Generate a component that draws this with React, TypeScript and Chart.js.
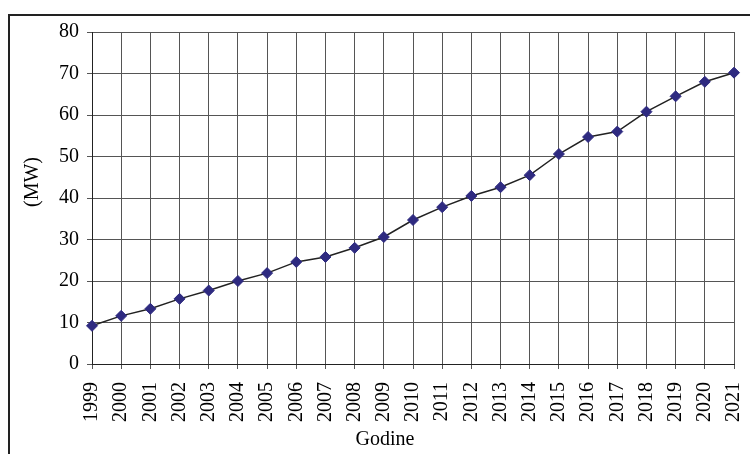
import React, { useEffect, useRef } from "react";
import { Chart, registerables } from "chart.js";

Chart.register(...registerables);

const years: string[] = [
  "1999", "2000", "2001", "2002", "2003", "2004", "2005", "2006", "2007", "2008", "2009", "2010",
  "2011", "2012", "2013", "2014", "2015", "2016", "2017", "2018", "2019", "2020", "2021",
];
const capacityMW: number[] = [
  9.2, 11.6, 13.3, 15.7, 17.7, 20.0, 21.9, 24.6, 25.8, 28.0, 30.6, 34.7,
  37.8, 40.5, 42.6, 45.5, 50.6, 54.7, 56.0, 60.8, 64.5, 68.0, 70.2,
];
const yTitle = "(MW)";
const xTitle = "Godine";

const FONT = "'Liberation Serif', 'Times New Roman', serif";

export default function App() {
  const ref = useRef<HTMLCanvasElement | null>(null);

  useEffect(() => {
    if (!ref.current) return;
    const titlesPlugin = {
      id: "titlesPlugin",
      afterDraw(chart: any) {
        const ctx = chart.ctx;
        ctx.save();
        ctx.font = `20px ${FONT}`;
        ctx.fillStyle = "#000";
        ctx.textAlign = "center";
        ctx.textBaseline = "middle";
        ctx.fillText(xTitle, 385, 440);
        ctx.translate(33, 182);
        ctx.rotate(-Math.PI / 2);
        ctx.fillText(yTitle, 0, 0);
        ctx.restore();
      },
    };
    const chart = new Chart(ref.current, {
      type: "line",
      data: {
        labels: years,
        datasets: [
          {
            data: capacityMW,
            borderColor: "#222",
            borderWidth: 1.5,
            pointStyle: "rectRot",
            pointRadius: 5.5,
            pointBackgroundColor: "#2E2A80",
            pointBorderColor: "#2E2A80",
            pointBorderWidth: 1,
            tension: 0,
            fill: false,
          },
        ],
      },
      options: {
        responsive: false,
        animation: false,
        layout: { padding: { left: 0, top: 32, right: 16, bottom: 0 } },
        plugins: {
          legend: { display: false },
          tooltip: { enabled: false },
        },
        scales: {
          x: {
            type: "category",
            offset: false,
            afterFit(scale: any) {
              scale.height = 90;
              scale.paddingLeft = 0;
              scale.paddingRight = 0;
            },
            grid: { color: "#555", lineWidth: 1, tickLength: 5, drawTicks: true },
            border: { color: "#222", width: 1 },
            ticks: {
              autoSkip: false,
              minRotation: 90,
              maxRotation: 90,
              padding: 13,
              color: "#000",
              font: { family: FONT, size: 20 },
            },
          },
          y: {
            min: 0,
            max: 80,
            afterFit(scale: any) {
              scale.width = 92;
              scale.paddingTop = 0;
              scale.paddingBottom = 0;
            },
            grid: { color: "#555", lineWidth: 1, tickLength: 5, drawTicks: true },
            border: { color: "#222", width: 1 },
            ticks: {
              stepSize: 10,
              padding: 8,
              color: "#000",
              font: { family: FONT, size: 20 },
            },
          },
        },
      },
      plugins: [titlesPlugin],
    } as any);
    return () => chart.destroy();
  }, []);

  return (
    <div style={{ position: "absolute", left: 0, top: 0, width: 750, height: 454, background: "#fff" }}>
      <div
        style={{
          position: "absolute",
          left: 8,
          top: 14,
          width: 742,
          height: 440,
          borderTop: "2px solid #222",
          borderLeft: "2px solid #222",
          boxSizing: "border-box",
        }}
      />
      <canvas
        ref={ref}
        width={750}
        height={454}
        style={{ position: "absolute", left: 0, top: 0, width: 750, height: 454 }}
      />
    </div>
  );
}
